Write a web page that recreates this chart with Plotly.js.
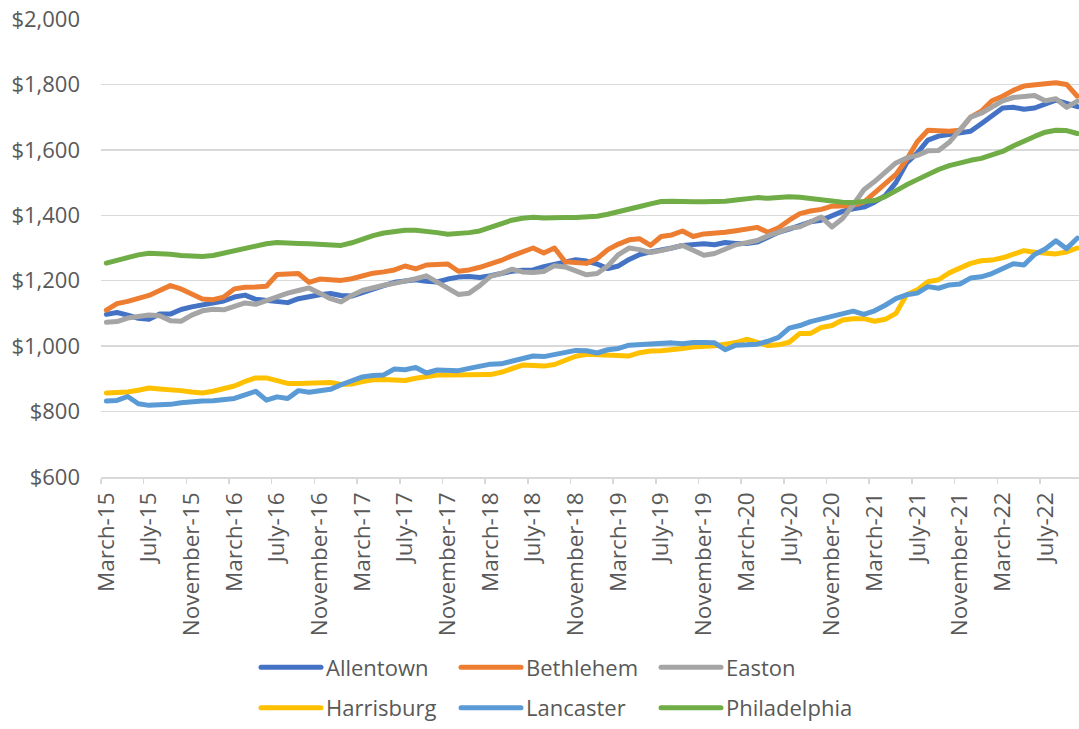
<!DOCTYPE html>
<html>
<head>
<meta charset="utf-8">
<script src="https://cdn.plot.ly/plotly-3.0.1.min.js"></script>
<style>
html,body{margin:0;padding:0;background:#fff;overflow:hidden;}
#chart{width:1079px;height:729px;}
.js-line{stroke-linejoin:round;stroke-linecap:round;}
</style>
</head>
<body>
<div id="chart"></div>
<script>
// Monthly rent, March 2015 – October 2022 (one value per month)
const tickLabels = ["March-15","July-15","November-15","March-16","July-16","November-16",
  "March-17","July-17","November-17","March-18","July-18","November-18",
  "March-19","July-19","November-19","March-20","July-20","November-20",
  "March-21","July-21","November-21","March-22","July-22"];

const allentown = [1097,1103,1095,1085,1082,1098,1098,1112,1120,1125,1130,1138,1150,1156,1143,1140,1136,1133,1145,1152,
  1157,1161,1155,1153,1165,1175,1185,1195,1200,1203,1198,1196,1205,1211,1213,1210,1215,1223,1229,1232,
  1233,1243,1250,1257,1264,1260,1251,1237,1245,1265,1280,1288,1293,1300,1308,1311,1313,1310,1317,1314,
  1314,1318,1333,1348,1358,1368,1380,1385,1398,1412,1420,1425,1440,1460,1500,1560,1590,1630,1642,1646,
  1650,1657,1680,1705,1728,1730,1724,1728,1742,1752,1742,1732];

const bethlehem = [1110,1130,1137,1145,1155,1170,1185,1175,1160,1144,1142,1150,1175,1180,1181,1183,1219,1222,1222,1195,
  1205,1203,1201,1206,1216,1223,1227,1233,1245,1236,1248,1250,1251,1229,1233,1241,1251,1262,1276,1287,
  1300,1285,1300,1258,1256,1253,1268,1295,1312,1325,1328,1308,1335,1340,1352,1335,1343,1345,1348,1353,
  1358,1363,1348,1362,1385,1405,1413,1418,1428,1430,1430,1440,1470,1500,1525,1570,1625,1660,1658,1657,
  1660,1700,1718,1750,1764,1782,1795,1800,1802,1805,1800,1764];

const easton = [1073,1075,1086,1091,1095,1093,1078,1076,1095,1108,1113,1111,1120,1132,1128,1140,1152,1162,1170,1178,
  1162,1145,1135,1155,1170,1180,1186,1192,1198,1206,1215,1195,1175,1158,1162,1185,1213,1222,1235,1227,
  1225,1228,1246,1242,1230,1218,1222,1245,1280,1300,1295,1286,1292,1300,1308,1293,1278,1283,1298,1310,
  1316,1323,1337,1350,1360,1365,1382,1395,1364,1390,1432,1478,1503,1530,1560,1575,1583,1597,1598,1623,
  1660,1700,1712,1730,1750,1760,1762,1766,1750,1756,1730,1749];

const harrisburg = [857,857,860,865,872,869,868,864,860,857,862,870,878,892,903,903,893,886,886,888,
  890,889,883,884,892,897,898,895,895,902,908,912,912,912,911,910,913,920,932,942,
  941,939,944,957,969,975,974,970,969,970,980,985,986,988,993,997,998,1001,1006,1011,
  1021,1013,1002,1004,1012,1039,1039,1057,1063,1080,1084,1084,1076,1082,1100,1157,1172,1197,1203,1224,
  1238,1253,1261,1263,1270,1280,1292,1287,1284,1282,1288,1300];

const lancaster = [832,834,846,824,819,819,822,827,831,832,833,835,840,851,862,835,845,840,864,859,
  862,868,882,893,906,910,912,930,928,935,918,927,926,925,932,937,945,946,953,962,
  970,968,975,982,987,986,979,989,993,1003,1004,1006,1009,1010,1007,1011,1011,1010,989,1003,
  1004,1006,1015,1027,1055,1063,1075,1083,1093,1100,1107,1097,1108,1125,1145,1157,1162,1182,1177,1187,
  1190,1208,1212,1222,1235,1252,1248,1280,1297,1322,1298,1330];

const philadelphia = [1254,1263,1272,1279,1284,1284,1281,1277,1274,1274,1277,1284,1293,1301,1308,1313,1317,1317,1314,1313,
  1311,1309,1308,1316,1328,1338,1346,1351,1354,1354,1352,1347,1342,1344,1347,1352,1363,1374,1385,1391,
  1394,1392,1391,1393,1393,1394,1397,1403,1412,1419,1427,1435,1442,1443,1441,1441,1441,1441,1443,1447,
  1452,1454,1452,1454,1457,1455,1451,1448,1444,1440,1439,1441,1445,1457,1476,1493,1509,1525,1540,1552,
  1561,1568,1574,1583,1595,1612,1628,1641,1654,1660,1659,1650];

const seriesNames = ["Allentown","Bethlehem","Easton","Harrisburg","Lancaster","Philadelphia"];
const seriesValues = [allentown, bethlehem, easton, harrisburg, lancaster, philadelphia];
const seriesColors = ["#4472C4","#ED7D31","#A5A5A5","#FFC000","#5B9BD5","#70AD47"];

const idx = allentown.map((_, i) => i);
const tickVals = tickLabels.map((_, k) => k * 4);

const FONT = "'Open Sans', sans-serif";
const TXT = "#595959";

const traces = seriesNames.map((name, s) => ({
  type: "scatter",
  mode: "lines",
  name: name,
  x: idx,
  y: seriesValues[s],
  line: {color: seriesColors[s], width: 5},
  legend: s < 3 ? "legend" : "legend2",
  hoverinfo: "x+y+name"
}));

const legendCommon = {
  orientation: "h",
  xanchor: "left",
  yanchor: "middle",
  x: (256 - 101) / 978,
  font: {family: FONT, size: 22, color: TXT},
  entrywidth: 125,
  entrywidthmode: "pixels",
  itemwidth: 60,
  bgcolor: "rgba(0,0,0,0)",
  borderwidth: 0
};

const layout = {
  width: 1079,
  height: 729,
  margin: {l: 101, r: 0, t: 19, b: 247, pad: 0},
  paper_bgcolor: "#ffffff",
  plot_bgcolor: "#ffffff",
  showlegend: true,
  xaxis: {
    range: [-0.5, 91.16],
    tickmode: "array",
    tickvals: tickVals,
    ticktext: tickLabels,
    tickangle: -90,
    ticks: "",
    ticklabelstandoff: 5,
    tickfont: {family: FONT, size: 22.5, color: TXT},
    showgrid: false,
    zeroline: false,
    showline: true,
    linecolor: "#d9d9d9",
    linewidth: 1.5,
    minor: {tick0: -0.5, dtick: 4, ticks: "outside", ticklen: 5, tickwidth: 1.5, tickcolor: "#d9d9d9", showgrid: false},
    fixedrange: true
  },
  yaxis: {
    range: [600, 2000],
    tickmode: "linear",
    tick0: 600,
    dtick: 200,
    tickprefix: "$",
    tickformat: ",d",
    ticks: "",
    ticklabelstandoff: 20,
    tickfont: {family: FONT, size: 22, color: TXT},
    showgrid: true,
    gridcolor: "#d9d9d9",
    gridwidth: 1.5,
    zeroline: false,
    showline: false,
    fixedrange: true
  },
  legend: Object.assign({}, legendCommon, {y: (482.5 - 675) / 463}),
  legend2: Object.assign({}, legendCommon, {y: (482.5 - 716) / 463})
};

Plotly.newPlot("chart", traces, layout, {displayModeBar: false, staticPlot: true});
</script>
</body>
</html>
